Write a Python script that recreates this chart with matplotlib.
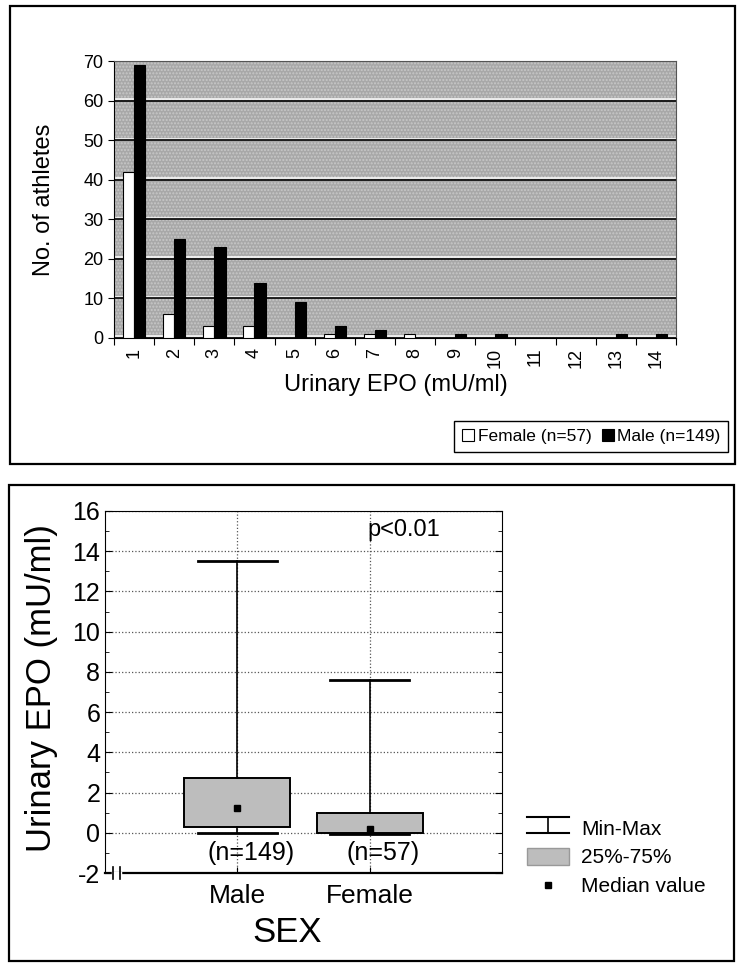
import matplotlib
matplotlib.use("Agg")
import matplotlib.pyplot as plt
import matplotlib.patheffects as pe
from matplotlib.patches import Rectangle, Patch
from matplotlib.lines import Line2D
from matplotlib.legend_handler import HandlerBase
from matplotlib.ticker import MultipleLocator
import numpy as np

plt.rcParams['font.family'] = ['Liberation Sans', 'DejaVu Sans']
plt.rcParams['axes.unicode_minus'] = False

# top panel: number of athletes per urinary EPO class
epo_bins = list(range(1, 15))
female = [42, 6, 3, 3, 0, 1, 1, 1, 0, 0, 0, 0, 0, 0]
male = [69, 25, 23, 14, 9, 3, 2, 0, 1, 1, 0, 0, 1, 1]
series_labels = ['Female (n=57)', 'Male (n=149)']

# bottom panel: box summary by sex
groups = ['Male', 'Female']
n_labels = ['(n=149)', '(n=57)']
mins = [0.0, -0.05]
q1 = [0.3, 0.0]
medians = [1.25, 0.2]
q3 = [2.7, 1.0]
maxs = [13.5, 7.6]

fig = plt.figure(figsize=(7.4, 9.67), dpi=100)

# frames around the two panels
for (x0, y0, w, h) in [(0.0135, 0.5202, 0.98, 0.4736), (0.0122, 0.0062, 0.98, 0.4922)]:
    fig.add_artist(Rectangle((x0, y0), w, h, transform=fig.transFigure,
                             fill=False, lw=1.6, ec='black'))

# ---- top: grouped bars
ax1 = fig.add_axes([0.154, 0.6505, 0.7595, 0.286])
ax1.set_facecolor('#a8a8a8')
ax1.add_patch(Rectangle((0, 0), 1, 1, transform=ax1.transAxes, facecolor='none',
                        edgecolor='#c8c8c8', hatch='.....', lw=0, zorder=0))
x = np.array(epo_bins)
w = 0.28
b1 = ax1.bar(x - w / 2, female, w, color='white', edgecolor='black', lw=0.8, zorder=3)
b2 = ax1.bar(x + w / 2, male, w, color='black', edgecolor='black', lw=0.8, zorder=3)
ax1.set_xlim(0.5, 14.5)
ax1.set_ylim(0, 70)
ax1.set_yticks(range(0, 71, 10))
ax1.set_axisbelow(True)
ax1.grid(axis='y', color='black', lw=1.2)
for gl in ax1.get_ygridlines():
    gl.set_path_effects([pe.SimpleLineShadow(offset=(0, 1.2), shadow_color='white', alpha=0.9),
                         pe.Normal()])
ax1.set_xticks(np.arange(0.5, 15, 1))
ax1.set_xticklabels([])
ax1.set_xticks(x, minor=True)
ax1.set_xticklabels([str(v) for v in epo_bins], minor=True, rotation=90, fontsize=13)
ax1.tick_params(axis='x', which='minor', length=0, pad=7)
ax1.tick_params(axis='x', which='major', length=5, direction='out')
ax1.tick_params(axis='y', length=4, direction='out', labelsize=13)
for s in ['top', 'right']:
    ax1.spines[s].set_color('#555555')
    ax1.spines[s].set_linewidth(0.8)
ax1.set_ylabel('No. of athletes', fontsize=17)
ax1.yaxis.set_label_coords(-0.105, 0.5)
ax1.set_xlabel('Urinary EPO (mU/ml)', fontsize=17)
ax1.xaxis.set_label_coords(0.502, -0.13)
leg1 = ax1.legend([b1, b2], series_labels, loc='center', bbox_to_anchor=(0.799, 0.549),
                  bbox_transform=fig.transFigure, ncol=2, fontsize=12.5, fancybox=False,
                  edgecolor='black', framealpha=1, handlelength=0.7, handleheight=0.7,
                  handletextpad=0.2, columnspacing=0.6, borderpad=0.45)
leg1.get_frame().set_linewidth(1.0)

# ---- bottom: box plot
ax2 = fig.add_axes([0.1419, 0.0972, 0.5365, 0.3744])
pos = np.arange(len(groups))
stats = [dict(med=m, q1=a, q3=b, whislo=lo, whishi=hi, fliers=[], label=g)
         for g, lo, a, m, b, hi in zip(groups, mins, q1, medians, q3, maxs)]
ax2.bxp(stats, positions=pos, widths=0.8, capwidths=0.6, patch_artist=True, showfliers=False,
        boxprops=dict(facecolor='#bdbdbd', edgecolor='black', lw=1.4),
        whiskerprops=dict(color='black', lw=1.2),
        capprops=dict(color='black', lw=2.0),
        medianprops=dict(visible=False))
ax2.plot(pos, medians, 's', color='black', ms=5, zorder=5)
ax2.set_xlim(-1, 2)
ax2.set_ylim(-2, 16)
ax2.set_yticks(range(-2, 17, 2))
ax2.yaxis.set_minor_locator(MultipleLocator(1))
ax2.set_xticks(pos)
ax2.set_xticklabels(groups)
ax2.set_axisbelow(True)
ax2.grid(True, ls=':', color='#555555', lw=0.9)
ax2.tick_params(axis='y', which='both', direction='in', right=True, labelsize=18)
ax2.tick_params(axis='y', which='major', length=5)
ax2.tick_params(axis='y', which='minor', length=3)
ax2.tick_params(axis='x', direction='in', length=4, labelsize=19, pad=8)
ax2.spines['bottom'].set_linewidth(1.6)
for g, p, t in zip(groups, pos, n_labels):
    ax2.text(p + 0.1, -1, t, ha='center', va='center', fontsize=18)
ax2.text(0.98, 15.05, 'p<0.01', ha='left', va='center', fontsize=17)
ax2.set_ylabel('Urinary EPO (mU/ml)', fontsize=25)
ax2.yaxis.set_label_coords(-0.118, 0.51)
ax2.set_xlabel('SEX', fontsize=25)
ax2.xaxis.set_label_coords(0.458, -0.12)
# axis break mark on the x axis
ax2.plot([0.021, 0.037], [0, 0], transform=ax2.transAxes, color='white', lw=2.5, clip_on=False, zorder=6)
for bx in [0.021, 0.037]:
    ax2.plot([bx, bx], [-0.017, 0.017], transform=ax2.transAxes, color='black', lw=1.2,
             clip_on=False, zorder=7)


class MinMaxHandler(HandlerBase):
    def create_artists(self, legend, orig, xd, yd, width, height, fontsize, trans):
        cx = xd + width / 2
        arts = [Line2D([xd, xd + width], [yd + height, yd + height], color='black', lw=1.5),
                Line2D([xd, xd + width], [yd, yd], color='black', lw=1.5),
                Line2D([cx, cx], [yd, yd + height], color='black', lw=1.2)]
        for a in arts:
            a.set_transform(trans)
        return arts


mm = Line2D([], [])
handles = [mm, Patch(facecolor='#bdbdbd', edgecolor='#999999'),
           Line2D([], [], ls='none', marker='s', color='black', ms=5)]
fig.legend(handles, ['Min-Max', '25%-75%', 'Median value'], handler_map={mm: MinMaxHandler()},
           loc='upper left', bbox_to_anchor=(0.712, 0.153), frameon=False, fontsize=15,
           handlelength=2.0, handleheight=0.85, handletextpad=0.6, labelspacing=0.45,
           borderpad=0, borderaxespad=0)

fig.savefig('out.png', dpi=100)
